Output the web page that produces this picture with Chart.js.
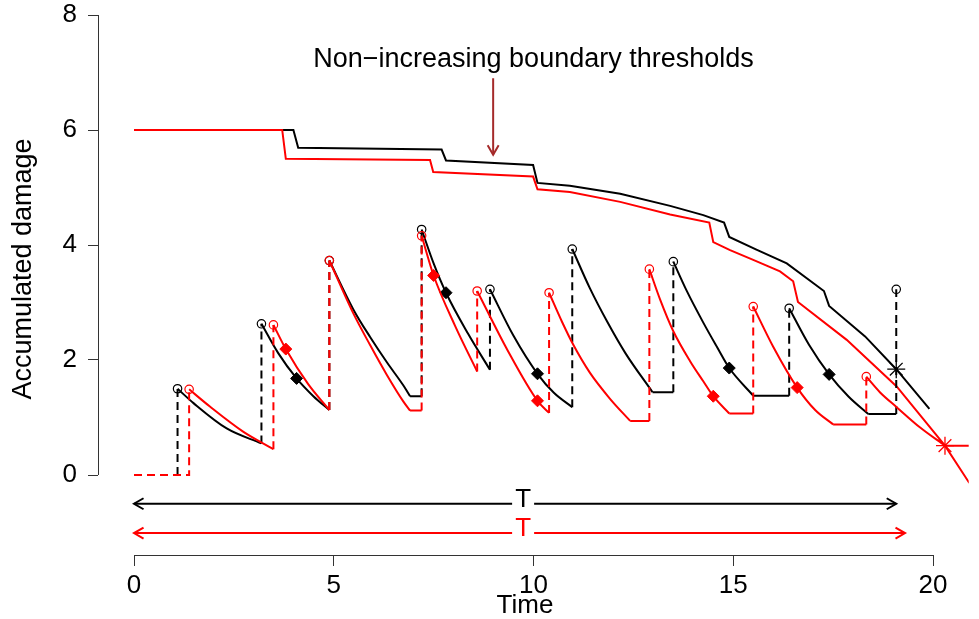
<!DOCTYPE html>
<html><head><meta charset="utf-8">
<script src="https://cdn.jsdelivr.net/npm/chart.js@4"></script>
<style>html,body{margin:0;padding:0;background:#fff}#wrap{width:979px;height:619px}</style>
</head><body><div id="wrap"><canvas id="c" width="979" height="619"></canvas></div>
<script>
// ---------- data ----------
const xTicks = [0, 5, 10, 15, 20];
const yTicks = [0, 2, 4, 6, 8];

// black system: degradation curves between shocks
const blackCurves = [
  [[1.09,1.50],[1.49,1.25],[2.32,0.81],[3.19,0.55]],
  [[3.19,2.63],[3.61,2.12],[4.07,1.68],[4.49,1.37],[4.89,1.13]],
  [[4.89,3.73],[5.49,2.88],[5.91,2.40],[6.33,1.96],[6.74,1.56],[6.91,1.37]],
  [[7.20,4.27],[7.50,3.68],[7.81,3.17],[8.36,2.46],[8.91,1.83]],
  [[8.91,3.23],[9.50,2.42],[10.10,1.76],[10.51,1.43],[10.97,1.18]],
  [[10.97,3.93],[11.41,3.25],[11.85,2.66],[12.30,2.12],[12.98,1.44]],
  [[13.50,3.71],[13.83,3.21],[14.25,2.65],[14.59,2.23],[14.90,1.86],[15.50,1.38]],
  [[16.40,2.90],[16.90,2.26],[17.40,1.75],[17.89,1.36],[18.38,1.06]]
];
const blackFlats = [
  [[6.91,1.37],[7.20,1.37]],
  [[12.98,1.44],[13.50,1.44]],
  [[15.50,1.38],[16.40,1.38]],
  [[18.38,1.06],[19.08,1.06]]
];
const blackJumpT    = [1.09, 3.19, 4.89, 7.20, 8.91, 10.97, 13.50, 16.40, 19.08];
const blackJumpFrom = [0.00, 0.55, 1.13, 1.37, 1.83, 1.18, 1.44, 1.38, 1.06];
const blackJumpTo   = [1.50, 2.63, 3.73, 4.27, 3.23, 3.93, 3.71, 2.90, 3.23];
const blackDiamondT = [4.07, 7.81, 10.10, 14.90, 17.40];
const blackDiamondY = [1.68, 3.17, 1.76, 1.86, 1.75];
const blackStar = [19.08, 1.84];
const blackBoundary = [[0,6.00],[3.99,6.00],[4.11,5.69],[7.70,5.66],[7.81,5.47],[9.99,5.39],[10.10,5.08],
  [10.91,5.03],[12.17,4.89],[13.42,4.68],[14.25,4.52],[14.77,4.39],[14.90,4.14],[15.58,3.92],[16.34,3.68],
  [17.27,3.20],[17.40,2.94],[18.30,2.41],[19.08,1.84],[19.91,1.15]];

// red system
const redCurves = [
  [[1.38,1.49],[1.90,1.19],[2.74,0.75],[3.49,0.45]],
  [[3.49,2.61],[3.80,2.19],[4.36,1.58],[4.89,1.13]],
  [[4.89,3.73],[5.49,2.81],[5.91,2.26],[6.33,1.74],[6.74,1.28],[6.91,1.12]],
  [[7.20,4.16],[7.50,3.47],[8.04,2.59],[8.59,1.80]],
  [[8.59,3.20],[9.35,2.17],[10.10,1.29],[10.39,1.08]],
  [[10.39,3.17],[10.71,2.67],[11.00,2.26],[11.41,1.78],[11.91,1.33],[12.42,0.94]],
  [[12.90,3.58],[13.17,3.05],[13.50,2.50],[13.92,1.98],[14.25,1.63],[14.50,1.37],[14.90,1.07]],
  [[15.50,2.93],[16.00,2.23],[16.60,1.52],[17.05,1.13],[17.50,0.88]],
  [[18.33,1.71],[18.67,1.44],[19.09,1.18],[19.67,0.83],[20.30,0.51]]
];
const redFlats = [
  [[6.91,1.12],[7.20,1.12]],
  [[12.42,0.94],[12.90,0.94]],
  [[14.90,1.07],[15.50,1.07]],
  [[17.50,0.88],[18.33,0.88]],
  [[20.30,0.51],[21.30,0.51]]
];
const redStart = [[0,0],[1.09,0]];
const redJumpT    = [1.38, 3.49, 4.89, 7.20, 8.59, 10.39, 12.90, 15.50, 18.33];
const redJumpFrom = [0.00, 0.45, 1.13, 1.12, 1.80, 1.08, 0.94, 1.07, 0.88];
const redJumpTo   = [1.49, 2.61, 3.73, 4.16, 3.20, 3.17, 3.58, 2.93, 1.71];
const redDiamondT = [3.80, 7.50, 10.10, 14.50, 16.60];
const redDiamondY = [2.19, 3.47, 1.29, 1.37, 1.52];
const redStar = [20.30, 0.51];
const redBoundary = [[0,6.00],[3.71,6.00],[3.80,5.50],[7.41,5.48],[7.49,5.27],[9.99,5.19],[10.10,4.97],
  [10.91,4.92],[12.17,4.75],[13.42,4.53],[14.40,4.39],[14.50,4.05],[14.92,3.91],[15.50,3.74],[16.17,3.54],
  [16.50,3.37],[16.62,3.01],[17.84,2.35],[19.09,1.54],[20.30,0.51],[20.91,-0.14]];

// lifetime arrows and annotation
const lifeBlack = {from: 0, to: 19.08, y: -0.50, labelX: 9.74};
const lifeRed   = {from: 0, to: 19.30, y: -1.01, labelX: 9.74};
const noteText = 'Non\u2212increasing boundary thresholds';
const noteX = 10.0, noteY = 7.25;
const noteArrow = {x: 8.99, y1: 6.90, y2: 5.57};

// ---------- build datasets ----------
const RED = '#ff0000', BLACK = '#000000', BROWN = '#a52a2a';
const FONT = 'Liberation Sans, Arial, sans-serif';
const FS = 26;
const P = a => a.map(p => ({x: p[0], y: p[1]}));
function vjumps(T, F, U) { const d = []; T.forEach((t, i) => d.push({x:t,y:F[i]},{x:t,y:U[i]},{x:t,y:null})); return d; }
function segs(list) { const d = []; list.forEach(s => d.push({x:s[0][0],y:s[0][1]},{x:s[1][0],y:s[1][1]},{x:s[1][0],y:null})); return d; }
const lineBase = {showLine: true, pointRadius: 0, borderWidth: 2, fill: false, spanGaps: false, tension: 0};
const ds = [];
ds.push({data: redJumpT.map((t,i)=>({x:t,y:redJumpTo[i]})), showLine:false, pointStyle:'circle', pointRadius:4.2, pointBorderWidth:1.2, pointBorderColor:RED, pointBackgroundColor:'rgba(0,0,0,0)', order:0});
ds.push({data: redDiamondT.map((t,i)=>({x:t,y:redDiamondY[i]})), showLine:false, pointStyle:'rectRot', pointRadius:6, pointBorderWidth:1, pointBorderColor:RED, pointBackgroundColor:RED, order:0});
ds.push({data: [{x:redStar[0],y:redStar[1]}], showLine:false, pointStyle:'star', pointRadius:9, pointBorderWidth:1.3, pointBorderColor:RED, order:0});
ds.push({data: [{x:blackStar[0],y:blackStar[1]}], showLine:false, pointStyle:'star', pointRadius:9, pointBorderWidth:1.3, pointBorderColor:BLACK, order:0});
ds.push({data: blackJumpT.map((t,i)=>({x:t,y:blackJumpTo[i]})), showLine:false, pointStyle:'circle', pointRadius:4.2, pointBorderWidth:1.2, pointBorderColor:BLACK, pointBackgroundColor:'rgba(0,0,0,0)', order:2});
ds.push({data: blackDiamondT.map((t,i)=>({x:t,y:blackDiamondY[i]})), showLine:false, pointStyle:'rectRot', pointRadius:6, pointBorderWidth:1, pointBorderColor:BLACK, pointBackgroundColor:BLACK, order:2});
redCurves.forEach(c => ds.push(Object.assign({}, lineBase, {data:P(c), borderColor:RED, cubicInterpolationMode:'monotone', order:1})));
ds.push(Object.assign({}, lineBase, {data:segs(redFlats), borderColor:RED, order:1}));
ds.push(Object.assign({}, lineBase, {data:P(redStart).concat(vjumps(redJumpT, redJumpFrom, redJumpTo)), borderColor:RED, borderDash:[8,5], order:1}));
blackCurves.forEach(c => ds.push(Object.assign({}, lineBase, {data:P(c), borderColor:BLACK, cubicInterpolationMode:'monotone', order:3})));
ds.push(Object.assign({}, lineBase, {data:segs(blackFlats), borderColor:BLACK, order:3}));
ds.push(Object.assign({}, lineBase, {data:vjumps(blackJumpT, blackJumpFrom, blackJumpTo), borderColor:BLACK, borderDash:[8,5], order:3}));
ds.push(Object.assign({}, lineBase, {data:P(redBoundary), borderColor:RED, order:4}));
ds.push(Object.assign({}, lineBase, {data:P(blackBoundary), borderColor:BLACK, order:5}));

// ---------- target pixel frame: x 0 -> 134, 20 -> 933 ; y 0 -> 475, 8 -> 15 ----------
const FRAME = {x0: 134, x20: 933, y0: 475, y8: 15};

function arrowHead(ctx, x, y, ang) {
  const L = 11, a = Math.PI / 6;
  ctx.beginPath();
  ctx.moveTo(x + L*Math.cos(ang + Math.PI - a), y + L*Math.sin(ang + Math.PI - a));
  ctx.lineTo(x, y);
  ctx.lineTo(x + L*Math.cos(ang + Math.PI + a), y + L*Math.sin(ang + Math.PI + a));
  ctx.stroke();
}

const decor = {
  id: 'decor',
  afterDatasetsDraw(chart) {
    const ctx = chart.ctx, xs = chart.scales.x, ys = chart.scales.y, ca = chart.chartArea;
    ctx.save();
    ctx.strokeStyle = '#333'; ctx.lineWidth = 1;
    ctx.beginPath();
    ctx.moveTo(xs.getPixelForValue(xTicks[0]), Math.round(ca.bottom) + 0.5);
    ctx.lineTo(xs.getPixelForValue(xTicks[xTicks.length-1]), Math.round(ca.bottom) + 0.5);
    ctx.moveTo(Math.round(ca.left) + 0.5, ys.getPixelForValue(yTicks[0]));
    ctx.lineTo(Math.round(ca.left) + 0.5, ys.getPixelForValue(yTicks[yTicks.length-1]));
    ctx.stroke();
    ctx.font = FS + 'px ' + FONT;
    ctx.textAlign = 'center'; ctx.textBaseline = 'alphabetic';
    [[lifeBlack, BLACK], [lifeRed, RED]].forEach(([a, col]) => {
      const x1 = xs.getPixelForValue(a.from), x2 = xs.getPixelForValue(a.to), y = ys.getPixelForValue(a.y);
      ctx.strokeStyle = col; ctx.lineWidth = 2;
      ctx.beginPath(); ctx.moveTo(x1, y); ctx.lineTo(x2, y); ctx.stroke();
      arrowHead(ctx, x1, y, Math.PI);
      arrowHead(ctx, x2, y, 0);
      const lx = xs.getPixelForValue(a.labelX);
      ctx.fillStyle = '#fff'; ctx.fillRect(lx - 11, y - 16, 22, 26);
      ctx.fillStyle = col; ctx.fillText('T', lx, y + 3);
    });
    ctx.fillStyle = BLACK;
    ctx.font = '27px ' + FONT;
    ctx.fillText(noteText, xs.getPixelForValue(noteX), ys.getPixelForValue(noteY) + 9);
    const ax = xs.getPixelForValue(noteArrow.x), ay1 = ys.getPixelForValue(noteArrow.y1), ay2 = ys.getPixelForValue(noteArrow.y2);
    ctx.strokeStyle = BROWN; ctx.lineWidth = 2;
    ctx.beginPath(); ctx.moveTo(ax, ay1); ctx.lineTo(ax, ay2); ctx.stroke();
    arrowHead(ctx, ax, ay2, Math.PI / 2);
    ctx.fillStyle = BLACK;
    ctx.font = FS + 'px ' + FONT;
    ctx.fillText('Time', 525, 613);
    ctx.font = '27px ' + FONT;
    ctx.translate(31, 269);
    ctx.rotate(-Math.PI / 2);
    ctx.fillText('Accumulated damage', 0, 0);
    ctx.restore();
  }
};

const chart = new Chart(document.getElementById('c'), {
  type: 'scatter',
  data: {datasets: ds},
  options: {
    responsive: false, animation: false, devicePixelRatio: 1,
    layout: {padding: {top: 0, left: 0, right: 0, bottom: 0}},
    plugins: {legend: {display: false}, tooltip: {enabled: false}, title: {display: false}},
    scales: {
      x: {
        type: 'linear', position: 'bottom', min: -0.9, max: 21.15,
        afterFit(s) { s.height = 64; },
        afterBuildTicks(s) { s.ticks = xTicks.map(v => ({value: v})); },
        grid: {drawOnChartArea: false, drawTicks: true, tickLength: 11, color: '#333', lineWidth: 1},
        border: {display: false},
        ticks: {font: {family: FONT, size: FS, lineHeight: 1}, color: BLACK, padding: 7, maxRotation: 0, autoSkip: false}
      },
      y: {
        type: 'linear', position: 'left', min: -1.39, max: 8.2,
        afterFit(s) { s.width = 98; },
        afterBuildTicks(s) { s.ticks = yTicks.map(v => ({value: v})); },
        grid: {drawOnChartArea: false, drawTicks: true, tickLength: 10, color: '#333', lineWidth: 1},
        border: {display: false},
        ticks: {font: {family: FONT, size: FS, lineHeight: 1}, color: BLACK, padding: 11, autoSkip: false}
      }
    }
  },
  plugins: [decor]
});

// fit the value ranges so the axes land on the target pixel frame
for (let k = 0; k < 3; k++) {
  const ca = chart.chartArea;
  const ppx = (FRAME.x20 - FRAME.x0) / 20, ppy = (FRAME.y0 - FRAME.y8) / 8;
  const xmin = -(FRAME.x0 - ca.left) / ppx;
  chart.options.scales.x.min = xmin;
  chart.options.scales.x.max = xmin + (ca.right - ca.left) / ppx;
  const ymax = 8 + (FRAME.y8 - ca.top) / ppy;
  chart.options.scales.y.max = ymax;
  chart.options.scales.y.min = ymax - (ca.bottom - ca.top) / ppy;
  chart.update();
}
</script></body></html>
